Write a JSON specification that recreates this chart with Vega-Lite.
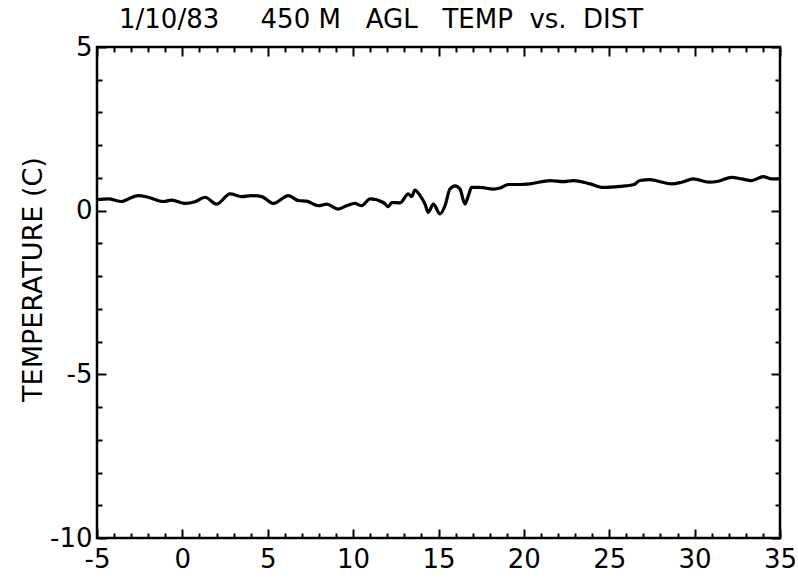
{
  "$schema": "https://vega.github.io/schema/vega-lite/v6.json",
  "width": 683,
  "height": 491,
  "autosize": {"type": "none"},
  "padding": {"left": 97, "top": 47, "right": 18, "bottom": 42},
  "background": "white",
  "config": {
    "view": {"stroke": "black", "strokeWidth": 2.5},
    "font": "DejaVu Sans",
    "axis": {"domain": false, "grid": false, "tickColor": "black", "tickWidth": 2, "labelColor": "black", "titleColor": "black", "labelFont": "DejaVu Sans", "titleFont": "DejaVu Sans"}
  },
  "title": {
    "text": "1/10/83\u00a0\u00a0\u00a0\u00a0\u00a0450\u00a0M\u00a0\u00a0\u00a0AGL\u00a0\u00a0\u00a0TEMP\u00a0\u00a0vs.\u00a0\u00a0DIST",
    "anchor": "start",
    "frame": "group",
    "dx": 22,
    "offset": 1,
    "fontSize": 26,
    "fontWeight": "normal",
    "font": "DejaVu Sans",
    "color": "black"
  },
  "data": {"values": [
    {"dist": -5.0, "temp": 0.34},
    {"dist": -4.34, "temp": 0.36},
    {"dist": -3.55, "temp": 0.28},
    {"dist": -3.17, "temp": 0.36},
    {"dist": -2.58, "temp": 0.46},
    {"dist": -2.0, "temp": 0.41},
    {"dist": -1.12, "temp": 0.28},
    {"dist": -0.63, "temp": 0.32},
    {"dist": 0.15, "temp": 0.22},
    {"dist": 0.74, "temp": 0.27},
    {"dist": 1.33, "temp": 0.41},
    {"dist": 2.01, "temp": 0.2},
    {"dist": 2.79, "temp": 0.51},
    {"dist": 3.47, "temp": 0.43},
    {"dist": 4.06, "temp": 0.46},
    {"dist": 4.65, "temp": 0.43},
    {"dist": 5.33, "temp": 0.22},
    {"dist": 6.21, "temp": 0.46},
    {"dist": 6.79, "temp": 0.31},
    {"dist": 7.28, "temp": 0.29},
    {"dist": 7.96, "temp": 0.15},
    {"dist": 8.45, "temp": 0.2},
    {"dist": 9.13, "temp": 0.05},
    {"dist": 9.62, "temp": 0.15},
    {"dist": 10.11, "temp": 0.22},
    {"dist": 10.5, "temp": 0.15},
    {"dist": 10.99, "temp": 0.36},
    {"dist": 11.77, "temp": 0.25},
    {"dist": 12.06, "temp": 0.12},
    {"dist": 12.26, "temp": 0.25},
    {"dist": 12.75, "temp": 0.24},
    {"dist": 13.23, "temp": 0.51},
    {"dist": 13.43, "temp": 0.43},
    {"dist": 13.62, "temp": 0.63},
    {"dist": 13.92, "temp": 0.46},
    {"dist": 14.21, "temp": 0.2},
    {"dist": 14.4, "temp": -0.05},
    {"dist": 14.7, "temp": 0.2},
    {"dist": 15.09, "temp": -0.1},
    {"dist": 15.38, "temp": 0.15},
    {"dist": 15.67, "temp": 0.66},
    {"dist": 15.97, "temp": 0.76},
    {"dist": 16.26, "temp": 0.66},
    {"dist": 16.55, "temp": 0.2},
    {"dist": 16.75, "temp": 0.46},
    {"dist": 16.94, "temp": 0.71},
    {"dist": 17.43, "temp": 0.71},
    {"dist": 18.21, "temp": 0.66},
    {"dist": 18.6, "temp": 0.69},
    {"dist": 19.09, "temp": 0.8},
    {"dist": 19.77, "temp": 0.8},
    {"dist": 20.36, "temp": 0.82},
    {"dist": 21.53, "temp": 0.92},
    {"dist": 22.31, "temp": 0.89},
    {"dist": 22.9, "temp": 0.92},
    {"dist": 23.87, "temp": 0.82},
    {"dist": 24.65, "temp": 0.71},
    {"dist": 25.63, "temp": 0.74},
    {"dist": 26.41, "temp": 0.79},
    {"dist": 26.8, "temp": 0.92},
    {"dist": 27.39, "temp": 0.95},
    {"dist": 27.87, "temp": 0.9},
    {"dist": 28.66, "temp": 0.82},
    {"dist": 29.24, "temp": 0.87},
    {"dist": 29.92, "temp": 0.97},
    {"dist": 30.84, "temp": 0.87},
    {"dist": 31.39, "temp": 0.9},
    {"dist": 32.17, "temp": 1.02},
    {"dist": 32.76, "temp": 0.97},
    {"dist": 33.34, "temp": 0.92},
    {"dist": 34.02, "temp": 1.04},
    {"dist": 34.51, "temp": 0.97},
    {"dist": 35.0, "temp": 0.97}
  ]},
  "resolve": {"axis": {"x": "independent", "y": "independent"}},
  "layer": [
    {
      "mark": {"type": "line", "color": "black", "strokeWidth": 3.2, "strokeJoin": "round", "strokeCap": "round", "interpolate": "monotone", "clip": true},
      "encoding": {
        "x": {"field": "dist", "type": "quantitative", "scale": {"domain": [-5, 35], "nice": false, "zero": false},
          "axis": {"orient": "bottom", "values": [-5, 0, 5, 10, 15, 20, 25, 30, 35], "tickSize": -9, "labelPadding": 17, "labelFontSize": 26, "labelExpr": "replace(datum.label, '\u2212', '-')", "title": null, "labelFlush": false}},
        "y": {"field": "temp", "type": "quantitative", "scale": {"domain": [-10, 5], "nice": false, "zero": false},
          "axis": {"orient": "left", "values": [-10, -5, 0, 5], "tickSize": -9, "labelPadding": 14, "labelFontSize": 26, "labelExpr": "replace(datum.label, '\u2212', '-')", "labelFlush": false, "title": "TEMPERATURE (C)", "titleFontSize": 27, "titleFontWeight": "normal", "titlePadding": 2, "titleY": 232}}
      }
    },
    {
      "mark": {"type": "line", "opacity": 0},
      "encoding": {
        "x": {"field": "dist", "type": "quantitative", "axis": {"orient": "bottom", "values": [-4,-3,-2,-1,1,2,3,4,6,7,8,9,11,12,13,14,16,17,18,19,21,22,23,24,26,27,28,29,31,32,33,34], "tickSize": -5, "labels": false, "title": null}},
        "y": {"field": "temp", "type": "quantitative", "axis": {"orient": "left", "values": [-9,-8,-7,-6,-4,-3,-2,-1,1,2,3,4], "tickSize": -5, "labels": false, "title": null}}
      }
    },
    {
      "mark": {"type": "line", "opacity": 0},
      "encoding": {
        "x": {"field": "dist", "type": "quantitative", "axis": {"orient": "top", "values": [-5, 0, 5, 10, 15, 20, 25, 30, 35], "tickSize": -9, "labels": false, "title": null}},
        "y": {"field": "temp", "type": "quantitative", "axis": {"orient": "right", "values": [-10, -5, 0, 5], "tickSize": -9, "labels": false, "title": null}}
      }
    },
    {
      "mark": {"type": "line", "opacity": 0},
      "encoding": {
        "x": {"field": "dist", "type": "quantitative", "axis": {"orient": "top", "values": [-4,-3,-2,-1,1,2,3,4,6,7,8,9,11,12,13,14,16,17,18,19,21,22,23,24,26,27,28,29,31,32,33,34], "tickSize": -5, "labels": false, "title": null}},
        "y": {"field": "temp", "type": "quantitative", "axis": {"orient": "right", "values": [-9,-8,-7,-6,-4,-3,-2,-1,1,2,3,4], "tickSize": -5, "labels": false, "title": null}}
      }
    }
  ]
}
